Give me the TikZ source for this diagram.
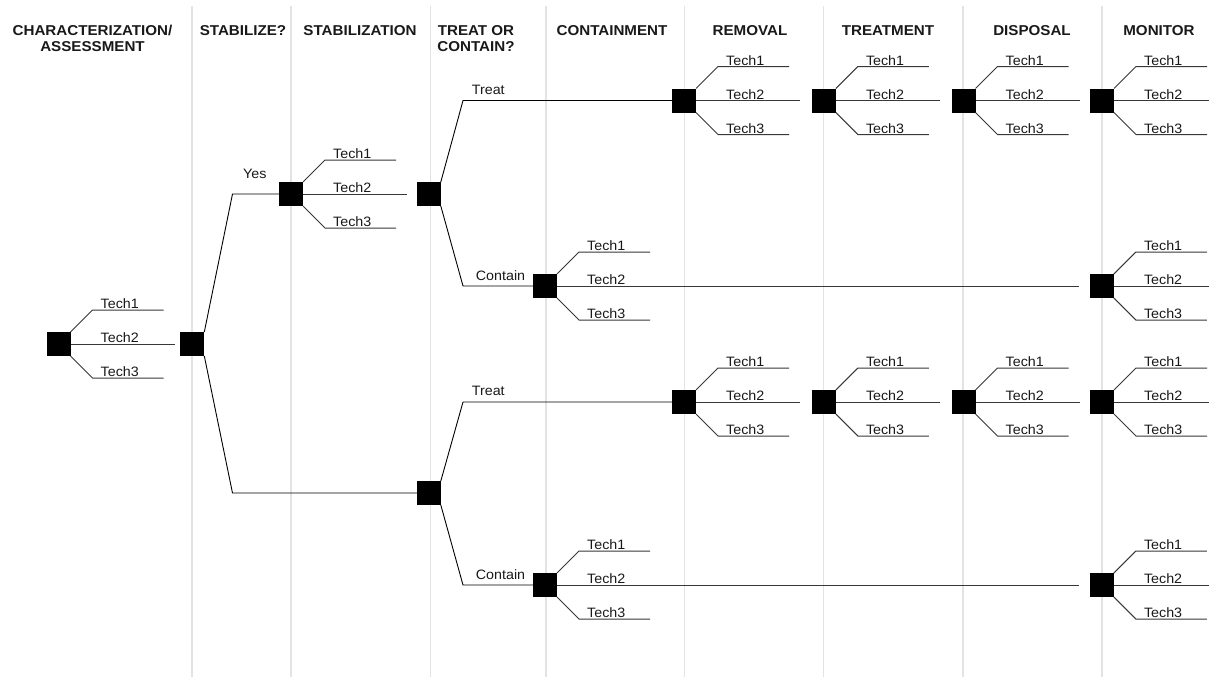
\documentclass[tikz,border=0pt]{standalone}
\usepackage{fontspec}
\setmainfont{Liberation Sans}
\newfontfamily\hdrfont[FakeStretch=1.06]{Liberation Sans Bold}
\newfontfamily\lblfont[FakeStretch=1.05]{Liberation Sans}
\newcommand\techfan[1]{%
  \draw[tline] (#1.north east) -- ++(22,-22) coordinate (#1-1) -- ++(71,0) coordinate (#1-1e);
  \draw[tline] (#1.east) -- ++(104,0) coordinate (#1-2e);
  \draw[tline] (#1.south east) -- ++(22,22) coordinate (#1-3) -- ++(71,0) coordinate (#1-3e);
  \node[lbl] (#1-l1) at ([xshift=8pt,yshift=1.2pt]#1-1) {Tech1};
  \node[lbl] (#1-l2) at ([xshift=30pt,yshift=1.2pt]#1.east) {Tech2};
  \node[lbl] (#1-l3) at ([xshift=8pt,yshift=1.2pt]#1-3) {Tech3};
}
\begin{document}
\begin{tikzpicture}[x=1pt,y=-1pt,
  gridline/.style={draw=black!11, line width=1.5pt},
  dbox/.style={fill=black, minimum size=24pt, inner sep=0pt, outer sep=0pt},
  wire/.style={draw=black, line width=0.9pt},
  tline/.style={draw=black!78, line width=1pt},
  hdr/.style={font=\hdrfont\fontsize{14.3}{16}\selectfont, align=center, anchor=north, inner sep=0pt, text=black!90},
  lbl/.style={font=\lblfont\fontsize{13.6}{15}\selectfont, anchor=base west, inner sep=0pt, text=black!90}]
\useasboundingbox (0,0) rectangle (1209,677);
\fill[white] (0,0) rectangle (1209,677);
% column separators
\foreach \x in {192,291,430.5,546,684.5,823.5,963,1102}
  \draw[gridline] (\x,6) -- (\x,677);
% headers
\node[hdr] (h1) at (92.5,25) {CHARACTERIZATION/\\ASSESSMENT};
\node[hdr] (h2) at (243,25) {STABILIZE?};
\node[hdr] (h3) at (360,25) {STABILIZATION};
\node[hdr] (h4) at (476,25) {TREAT OR\\CONTAIN?};
\node[hdr] (h5) at (612,25) {CONTAINMENT};
\node[hdr] (h6) at (750,25) {REMOVAL};
\node[hdr] (h7) at (888,25) {TREATMENT};
\node[hdr] (h8) at (1032,25) {DISPOSAL};
\node[hdr] (h9) at (1159,25) {MONITOR};
% decision boxes
\node[dbox] (A) at (58.5,344) {};
\node[dbox] (B) at (192.3,344) {};
\node[dbox] (C) at (291,194) {};
\node[dbox] (D) at (428.8,194) {};
\node[dbox] (E1) at (684,100.5) {};
\node[dbox] (E2) at (823.8,100.5) {};
\node[dbox] (E3) at (963.5,100.5) {};
\node[dbox] (E4) at (1102,100.5) {};
\node[dbox] (F) at (545,286) {};
\node[dbox] (G) at (1101.8,286) {};
\node[dbox] (D2) at (428.8,493) {};
\node[dbox] (H1) at (684,402) {};
\node[dbox] (H2) at (823.8,402) {};
\node[dbox] (H3) at (963.5,402) {};
\node[dbox] (H4) at (1102,402) {};
\node[dbox] (F2) at (545,585) {};
\node[dbox] (G2) at (1101.8,585) {};
% technology fans
\foreach \n in {A,C,E1,E2,E3,E4,F,G,H1,H2,H3,H4,F2,G2} {\techfan{\n}}
% knees
\coordinate (yesk) at (232.5,194);
\coordinate (nok) at (232.5,493);
\coordinate (t1k) at (463,100.5);
\coordinate (c1k) at (463,286);
\coordinate (t2k) at (463,402);
\coordinate (c2k) at (463,585);
% branches
\draw[wire] (B.north east) -- (yesk) -- (C.west);
\draw[wire] (B.south east) -- (nok) -- (D2.west);
\draw[wire] (D.north east) -- (t1k) -- (E1.west);
\draw[wire] (D.south east) -- (c1k) -- (F.west);
\draw[wire] (D2.north east) -- (t2k) -- (H1.west);
\draw[wire] (D2.south east) -- (c2k) -- (F2.west);
\draw[tline] (F.east) -- ([xshift=-11pt]G.west);
\draw[tline] (F2.east) -- ([xshift=-11pt]G2.west);
% branch labels
\node[lbl] (yes) at (243,178) {Yes};
\node[lbl] (tr1) at (471.7,94.3) {Treat};
\node[lbl] (co1) at (475.7,280) {Contain};
\node[lbl] (tr2) at (471.7,395.5) {Treat};
\node[lbl] (co2) at (475.7,579) {Contain};
\end{tikzpicture}
\end{document}
